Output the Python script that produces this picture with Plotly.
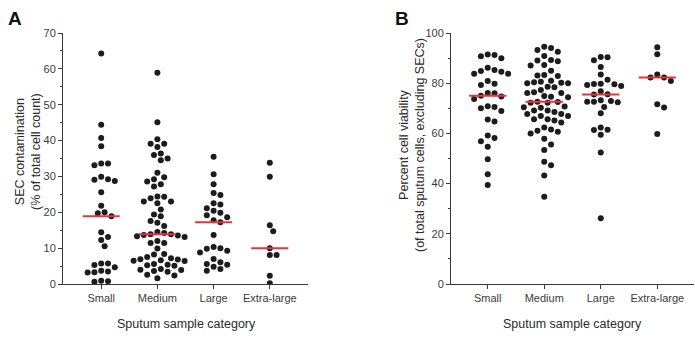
import numpy as np
import plotly.graph_objects as go

# ---- data -------------------------------------------------------------
categories = ["Small", "Medium", "Large", "Extra-large"]

# SEC contamination (% of total cell count)
sec_small = [64.3, 44.4, 40.7, 38.4, 33.6, 33.6, 33.1, 29.9, 29.2, 29.1, 28.7,
             25.6, 21.8, 20.0, 19.7, 18.9, 14.4, 13.1, 12.3, 10.5, 5.7, 5.7,
             5.3, 4.7, 3.7, 3.5, 3.3, 3.2, 0.9, 0.8, 0.6]
sec_medium = [58.9, 45.1, 40.4, 39.1, 39.1, 38.2, 36.4, 36.0, 35.0, 34.5, 31.0,
              29.8, 29.2, 28.6, 27.8, 27.2, 24.4, 24.3, 23.9, 23.0, 23.0, 22.5,
              20.8, 19.4, 18.9, 17.6, 17.1, 16.2, 14.5, 14.2, 13.9, 13.9, 13.7,
              13.5, 13.3, 13.1, 12.0, 11.4, 11.4, 9.9, 8.4, 8.2, 7.5, 7.2, 6.9,
              6.8, 6.6, 6.5, 6.4, 5.6, 5.4, 5.2, 5.1, 4.2, 4.0, 3.9, 3.6, 3.4,
              2.6, 2.4, 1.6]
sec_large = [35.5, 30.6, 27.8, 25.4, 24.8, 22.5, 22.2, 21.1, 20.4, 19.9, 19.2,
             18.6, 17.8, 17.2, 13.7, 10.3, 10.0, 9.8, 9.3, 8.8, 7.0, 6.1, 5.6,
             5.4, 4.8, 4.2, 3.7]
sec_xlarge = [33.8, 29.9, 16.4, 14.7, 10.0, 8.1, 8.1, 2.3, 0.2]

# Percent cell viability (of total sputum cells, excluding SECs)
via_small = [91.4, 91.2, 90.7, 89.9, 86.2, 85.3, 84.9, 84.6, 83.8, 83.8, 80.9,
             79.8, 79.3, 76.1, 76.0, 75.0, 74.7, 73.7, 70.8, 70.5, 70.0, 68.9,
             65.5, 64.7, 59.2, 58.2, 56.9, 54.7, 49.7, 43.7, 39.4]
via_medium = [94.5, 94.0, 93.2, 92.5, 90.8, 89.2, 89.0, 88.7, 87.3, 87.1, 85.0,
              83.3, 83.1, 82.9, 81.0, 80.6, 80.4, 80.2, 80.0, 80.0, 78.6, 78.4,
              77.3, 76.4, 76.1, 76.1, 74.9, 74.6, 74.4, 72.6, 72.5, 72.2, 72.2,
              70.7, 70.4, 70.2, 69.1, 69.1, 68.5, 67.7, 67.7, 66.9, 66.9, 65.6,
              65.6, 65.1, 64.3, 62.4, 61.6, 61.1, 60.7, 60.0, 57.9, 55.6, 53.4,
              48.7, 47.3, 43.2, 34.8]
via_large = [90.4, 90.3, 89.1, 86.5, 83.5, 81.4, 79.8, 79.7, 79.6, 79.3, 78.9,
             76.8, 75.6, 75.5, 73.2, 72.9, 72.6, 72.6, 72.4, 70.5, 68.0, 62.4,
             61.5, 61.4, 59.5, 52.4, 26.2]
via_xlarge = [94.3, 91.5, 83.5, 82.3, 82.3, 80.9, 71.6, 70.3, 59.8]

sec_groups = [sec_small, sec_medium, sec_large, sec_xlarge]
via_groups = [via_small, via_medium, via_large, via_xlarge]

# ---- geometry ---------------------------------------------------------
W, H = 695, 341
MT, MB = 33, 57
plot_h = H - MT - MB
dom_a = (63, 308)
dom_b = (451, 694)
xr_a = (0.32, 4.68)
xr_b = (0.35, 4.65)
yr_a = (0, 70)
yr_b = (0, 100)

FONT = "Liberation Sans, Arial, sans-serif"
DOT = 6.0          # marker diameter, px
GAP = 6.8          # minimum centre distance between dots, px


def swarm(values, px_per_y, px_per_x):
    """Greedy beeswarm: horizontal offsets (x data units) so dots don't overlap."""
    vals = np.asarray(values, dtype=float)
    order = np.argsort(-vals, kind="stable")
    step = GAP / 2.0
    cands = [0.0]
    for k in range(1, 40):
        cands += [k * step, -k * step]
    placed = []
    offs = np.zeros(len(vals))
    for i in order:
        y = vals[i] * px_per_y
        for c in cands:
            if all((c - px) ** 2 + (y - py) ** 2 >= GAP ** 2 for px, py in placed):
                break
        placed.append((c, y))
        offs[i] = c / px_per_x
    return offs


fig = go.Figure()
shapes = []

panels = [
    (sec_groups, "x", "y", dom_a, xr_a, yr_a),
    (via_groups, "x2", "y2", dom_b, xr_b, yr_b),
]
for groups, xa, ya, dom, xr, yr in panels:
    ppx = (dom[1] - dom[0]) / (xr[1] - xr[0])
    ppy = plot_h / (yr[1] - yr[0])
    for ci, vals in enumerate(groups):
        pos = ci + 1
        offs = swarm(vals, ppy, ppx)
        fig.add_trace(go.Scatter(
            x=pos + offs, y=vals, mode="markers", xaxis=xa, yaxis=ya,
            marker=dict(size=DOT, color="#1c1c1c", line=dict(width=0)),
            showlegend=False, hoverinfo="y",
        ))
        med = float(np.median(vals))
        shapes.append(dict(
            type="line", xref=xa, yref=ya, x0=pos - 0.33, x1=pos + 0.33,
            y0=med, y1=med, line=dict(color="#e8323a", width=2), layer="above",
        ))

axis_common = dict(
    showline=True, linecolor="#3a3a3a", linewidth=1, showgrid=False,
    zeroline=False, ticks="outside", ticklen=4, tickwidth=1, tickcolor="#3a3a3a",
    tickfont=dict(family=FONT, size=11, color="#3a3a3a"),
)
xaxis_common = dict(axis_common, tickvals=[1, 2, 3, 4], ticktext=categories,
                    fixedrange=True)

fig.update_layout(
    width=W, height=H,
    margin=dict(l=0, r=0, t=MT, b=MB),
    paper_bgcolor="white", plot_bgcolor="white",
    xaxis=dict(xaxis_common, domain=[dom_a[0] / W, dom_a[1] / W],
               range=list(xr_a), anchor="y"),
    yaxis=dict(axis_common, range=list(yr_a), dtick=10, anchor="x",
               minor=dict(ticks="outside", ticklen=2, dtick=5,
                          tickcolor="#3a3a3a")),
    xaxis2=dict(xaxis_common, domain=[dom_b[0] / W, dom_b[1] / W],
                range=list(xr_b), anchor="y2"),
    yaxis2=dict(axis_common, range=list(yr_b), dtick=20, anchor="x2",
                minor=dict(ticks="outside", ticklen=2, dtick=10,
                           tickcolor="#3a3a3a")),
    shapes=shapes,
)

title_font = dict(family=FONT, size=12.5, color="#2a2a2a")


def px_x(px):
    return px / W


def px_y(py):
    return 1 - (py - MT) / plot_h


annotations = [
    dict(text="<b>A</b>", x=px_x(15), y=px_y(18), font=dict(family=FONT, size=19, color="#111")),
    dict(text="<b>B</b>", x=px_x(402), y=px_y(18), font=dict(family=FONT, size=19, color="#111")),
    dict(text="SEC contamination<br>(% of total cell count)", x=px_x(28), y=px_y(152),
         textangle=-90, font=title_font),
    dict(text="Percent cell viability<br>(of total sputum cells, excluding SECs)",
         x=px_x(412), y=px_y(145), textangle=-90, font=title_font),
    dict(text="Sputum sample category", x=px_x(186), y=px_y(324), font=title_font),
    dict(text="Sputum sample category", x=px_x(572), y=px_y(324), font=title_font),
]
for a in annotations:
    a.update(xref="paper", yref="paper", showarrow=False,
             xanchor="center", yanchor="middle")
fig.update_layout(annotations=annotations)

fig.write_html("out.html")
